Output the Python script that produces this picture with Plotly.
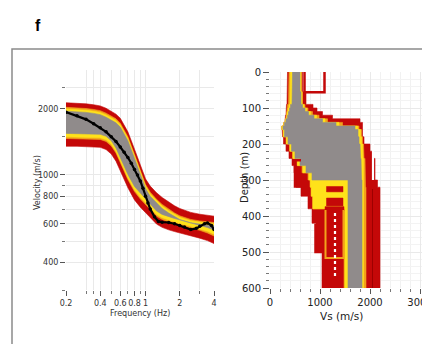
import plotly.graph_objects as go

# ---------------- dispersion curves (left panel) ----------------
freq = [0.2, 0.25, 0.3, 0.35, 0.4, 0.45, 0.5, 0.55, 0.6, 0.7, 0.8, 0.9,
        1.0, 1.1, 1.25, 1.4, 1.6, 1.8, 2.0, 2.5, 3.0, 3.5, 4.0]
red_hi = [2130, 2120, 2105, 2085, 2060, 2010, 1955, 1890, 1810, 1570, 1310, 1100,
          960, 890, 830, 790, 752, 724, 704, 676, 663, 656, 650]
orange_hi = [2030, 2020, 2005, 1985, 1960, 1910, 1855, 1800, 1720, 1490, 1240, 1040,
             905, 835, 775, 735, 700, 672, 652, 628, 618, 612, 608]
yellow_hi = [1995, 1985, 1970, 1950, 1925, 1875, 1825, 1770, 1690, 1465, 1220, 1024,
             890, 820, 762, 722, 688, 661, 642, 619, 609, 603, 599]
gray_hi = [1950, 1940, 1925, 1905, 1880, 1830, 1780, 1725, 1650, 1430, 1190, 1000,
           868, 800, 744, 704, 671, 645, 627, 606, 596, 591, 587]
gray_lo = [1545, 1545, 1540, 1535, 1530, 1500, 1430, 1325, 1200, 1005, 886, 820,
           772, 738, 686, 662, 645, 634, 625, 605, 591, 577, 562]
yellow_lo = [1490, 1490, 1485, 1480, 1475, 1445, 1380, 1280, 1160, 970, 855, 792,
             744, 712, 662, 639, 622, 612, 602, 584, 570, 555, 538]
orange_lo = [1465, 1465, 1460, 1455, 1450, 1420, 1355, 1258, 1140, 953, 840, 778,
             731, 699, 650, 628, 612, 601, 591, 573, 560, 545, 528]
red_lo = [1350, 1350, 1345, 1340, 1335, 1305, 1245, 1155, 1045, 875, 770, 714,
          670, 640, 598, 578, 563, 553, 545, 528, 516, 503, 488]

mean_freq = [0.2, 0.25, 0.3, 0.35, 0.4, 0.45, 0.5, 0.55, 0.6, 0.65, 0.7, 0.75, 0.8,
             0.85, 0.9, 0.95, 1.0, 1.05, 1.1, 1.2, 1.3, 1.4, 1.6, 1.8, 2.0, 2.2,
             2.5, 2.8, 3.0, 3.3, 3.5, 3.8, 4.0]
mean_vel = [1930, 1860, 1790, 1710, 1640, 1570, 1490, 1420, 1340, 1270, 1200, 1130, 1060,
            1000, 940, 870, 800, 745, 700, 645, 615, 610, 608, 600, 590, 580,
            565, 572, 585, 600, 605, 590, 565]

f_ticks = [0.2, 0.4, 0.6, 0.8, 1, 2, 4]
f_minor = [0.3, 0.35, 0.5, 0.7, 0.9, 3]
v_ticks = [400, 600, 800, 1000, 2000]
v_minor = [300, 500, 700, 900, 1500, 2500]

# ---------------- Vs profiles (right panel) ----------------
depth_edges = [0, 55, 90, 100, 110, 120, 130, 140, 150, 160, 180, 200, 220, 240, 260,
               280, 300, 320, 345, 380, 420, 500, 600]
red_left = [350, 340, 330, 325, 320, 310, 300, 280, 240, 250, 270, 320, 380, 440, 480,
            500, 520, 620, 760, 840, 920, 1040]
red_right = [650, 720, 860, 940, 1050, 1250, 1800, 1850, 1850, 1850, 1880, 2000, 2050,
             2100, 2100, 2100, 2150, 2200, 2200, 2200, 2200, 2200]
orange_left = [380, 370, 350, 340, 335, 320, 300, 270, 230, 260, 320, 390, 450, 540, 640,
               760, 800, 820, 850, 1480, 1480, 1480]
orange_right = [630, 650, 700, 760, 850, 980, 1150, 1450, 1780, 1830, 1850, 1870, 1880,
                1900, 1900, 1900, 1910, 1920, 1920, 1920, 1920, 1920]
yellow_left = [410, 400, 380, 360, 345, 330, 310, 280, 240, 270, 330, 400, 460, 550, 660,
               780, 810, 830, 860, 1500, 1500, 1500]
yellow_right = [620, 640, 680, 730, 810, 930, 1100, 1380, 1750, 1810, 1830, 1850, 1860,
                1870, 1870, 1870, 1870, 1870, 1870, 1870, 1870, 1870]
gray_left = [450, 440, 410, 390, 370, 350, 320, 290, 260, 290, 360, 430, 500, 600, 720,
             840, 1560, 1560, 1560, 1560, 1560, 1560]
gray_right = [600, 620, 650, 700, 770, 880, 1050, 1320, 1700, 1760, 1780, 1800, 1810,
              1820, 1830, 1830, 1840, 1840, 1840, 1840, 1840, 1840]

# single rejected models drawn as open step lines
outlier_top_vs = [690, 690, 1090, 1090]
outlier_top_z = [0, 56, 56, 0]
outlier_left_vs = [620, 500, 500, 640]
outlier_left_z = [245, 245, 318, 318]
outlier_deep_vs = [1040, 910, 910, 1040]
outlier_deep_z = [425, 425, 500, 500]
# red layers inside the yellow zone (vs_min, vs_max, z_top, z_bottom)
inner_blocks = [(1130, 1460, 318, 333), (1130, 1460, 350, 372), (1100, 1480, 374, 386)]
orange_box_vs = [1110, 1110, 1470, 1470]
orange_box_z = [383, 517, 517, 383]
# unsampled gaps between neighbouring models (vs, z_top, z_bottom)
gaps = [(1300, 392, 575), (1915, 136, 172), (2060, 192, 300)]
dark_seam_vs = [2050, 2050]
dark_seam_z = [325, 600]

vs_ticks = [0, 1000, 2000, 3000]
z_ticks = [0, 100, 200, 300, 400, 500, 600]

RED = "#c40808"
DARK_RED = "#9e0000"
ORANGE = "#f2a21c"
YELLOW = "#ffe21a"
GRAY = "#908b8b"


def band(xa, hi, lo):
    return list(xa) + list(xa)[::-1], list(hi) + list(lo)[::-1]


def step_polygon(edges, left, right):
    xs, ys = [], []
    for i in range(len(left)):
        xs += [right[i], right[i]]
        ys += [edges[i], edges[i + 1]]
    for i in reversed(range(len(left))):
        xs += [left[i], left[i]]
        ys += [edges[i + 1], edges[i]]
    return xs, ys


fig = go.Figure()

for hi, lo, col in [(red_hi, red_lo, RED), (orange_hi, orange_lo, ORANGE),
                    (yellow_hi, yellow_lo, YELLOW), (gray_hi, gray_lo, GRAY)]:
    bx, by = band(freq, hi, lo)
    fig.add_trace(go.Scatter(x=bx, y=by, fill="toself", fillcolor=col, mode="lines",
                             line=dict(width=0.6, color=col), hoverinfo="skip",
                             xaxis="x", yaxis="y", showlegend=False))

fig.add_trace(go.Scatter(x=mean_freq, y=mean_vel, mode="lines+markers",
                         line=dict(color="black", width=2.2),
                         marker=dict(color="black", size=3.5),
                         xaxis="x", yaxis="y", showlegend=False))

for left, right, col in [(red_left, red_right, RED), (orange_left, orange_right, ORANGE),
                         (yellow_left, yellow_right, YELLOW), (gray_left, gray_right, GRAY)]:
    px, py = step_polygon(depth_edges, left, right)
    fig.add_trace(go.Scatter(x=px, y=py, fill="toself", fillcolor=col, mode="lines",
                             line=dict(width=0.6, color=col), hoverinfo="skip",
                             xaxis="x2", yaxis="y2", showlegend=False))

for v0, v1, z0, z1 in inner_blocks:
    fig.add_trace(go.Scatter(x=[v0, v1, v1, v0, v0], y=[z0, z0, z1, z1, z0],
                             fill="toself", fillcolor=RED, mode="lines",
                             line=dict(width=0.5, color=RED), hoverinfo="skip",
                             xaxis="x2", yaxis="y2", showlegend=False))

fig.add_trace(go.Scatter(x=orange_box_vs, y=orange_box_z, mode="lines",
                         line=dict(color=ORANGE, width=2), xaxis="x2", yaxis="y2",
                         showlegend=False))
for gv, gz0, gz1 in gaps:
    fig.add_trace(go.Scatter(x=[gv, gv], y=[gz0, gz1], mode="lines",
                             line=dict(color="white", width=2.2,
                                       dash="dot" if gz1 - gz0 > 150 else "solid"),
                             xaxis="x2", yaxis="y2", showlegend=False))
fig.add_trace(go.Scatter(x=dark_seam_vs, y=dark_seam_z, mode="lines",
                         line=dict(color=DARK_RED, width=1), xaxis="x2", yaxis="y2",
                         showlegend=False))
for vx, vz in [(outlier_top_vs, outlier_top_z), (outlier_left_vs, outlier_left_z),
               (outlier_deep_vs, outlier_deep_z)]:
    fig.add_trace(go.Scatter(x=vx, y=vz, mode="lines", line=dict(color=RED, width=2.5),
                             xaxis="x2", yaxis="y2", showlegend=False))

W, H = 422, 344
FONT = "DejaVu Sans"
GRID = "#e9e9e9"


def ann(text, x, y, size, color="#333", angle=0, family=FONT):
    return dict(text=text, x=x / W, y=(H - y) / H, xref="paper", yref="paper",
                xanchor="center", yanchor="middle", textangle=angle, showarrow=False,
                font=dict(family=family, size=size, color=color))


fig.update_layout(
    width=W, height=H, margin=dict(l=0, r=0, t=0, b=0, pad=0),
    paper_bgcolor="white", plot_bgcolor="white",
    font=dict(family=FONT, color="#333333"),
    xaxis=dict(type="log", range=[-0.69897, 0.60206], automargin=False,
               domain=[66 / W, 214 / W], anchor="y", tickangle=0,
               tickvals=f_ticks, ticktext=[str(v) for v in f_ticks],
               ticks="outside", ticklen=5, tickcolor="#555", tickfont=dict(size=8),
               showgrid=True, gridcolor=GRID, gridwidth=1, zeroline=False,
               minor=dict(tickmode="array", tickvals=f_minor, ticks="outside",
                          ticklen=3, tickcolor="#777", showgrid=True, gridcolor=GRID),
               showline=False),
    yaxis=dict(type="log", range=[2.47712, 3.47712], automargin=False,
               domain=[(H - 290) / H, (H - 70) / H], anchor="x",
               tickvals=v_ticks, ticktext=[str(v) for v in v_ticks],
               ticks="outside", ticklen=5, tickcolor="#555", tickfont=dict(size=8),
               showgrid=True, gridcolor=GRID, zeroline=False,
               minor=dict(tickmode="array", tickvals=v_minor, ticks="outside",
                          ticklen=3, tickcolor="#777", showgrid=True, gridcolor=GRID),
               showline=False),
    xaxis2=dict(range=[0, 3040], domain=[270 / W, 1.0], anchor="y2", automargin=False,
                tickvals=vs_ticks, ticks="outside", ticklen=5, tickcolor="#555",
                tickangle=0, tickfont=dict(size=10, color="#222"),
                ticklabeloverflow="allow",
                showgrid=True, gridcolor=GRID, zeroline=False, showline=False,
                minor=dict(dtick=200, ticks="outside", ticklen=3, tickcolor="#777",
                           showgrid=True, gridcolor="#f1f1f1")),
    yaxis2=dict(range=[600, 0], domain=[(H - 288) / H, (H - 72) / H], anchor="x2",
                automargin=False,
                tickvals=z_ticks, ticks="outside", ticklen=6, tickcolor="#555",
                tickfont=dict(size=10, color="#222"),
                showgrid=True, gridcolor=GRID, zeroline=False, showline=False,
                minor=dict(dtick=20, ticks="outside", ticklen=3, tickcolor="#777",
                           showgrid=True, gridcolor="#f3f3f3")),
    shapes=[dict(type="rect", xref="paper", yref="paper",
                 x0=12 / W, x1=1.05, y0=-0.05, y1=(H - 49) / H,
                 line=dict(color="#8a8a8a", width=1.5), layer="below")],
    annotations=[
        ann("<b>f</b>", 38, 25, 16, "black", family="Liberation Sans"),
        ann("Frequency (Hz)", 140, 313, 8),
        ann("Velocity (m/s)", 37, 183, 8, angle=-90),
        ann("Vs (m/s)", 341, 316, 10.5, "#222"),
        ann("Depth (m)", 244, 178, 10, "#222", angle=-90),
    ],
)

fig.write_html("out.html")
